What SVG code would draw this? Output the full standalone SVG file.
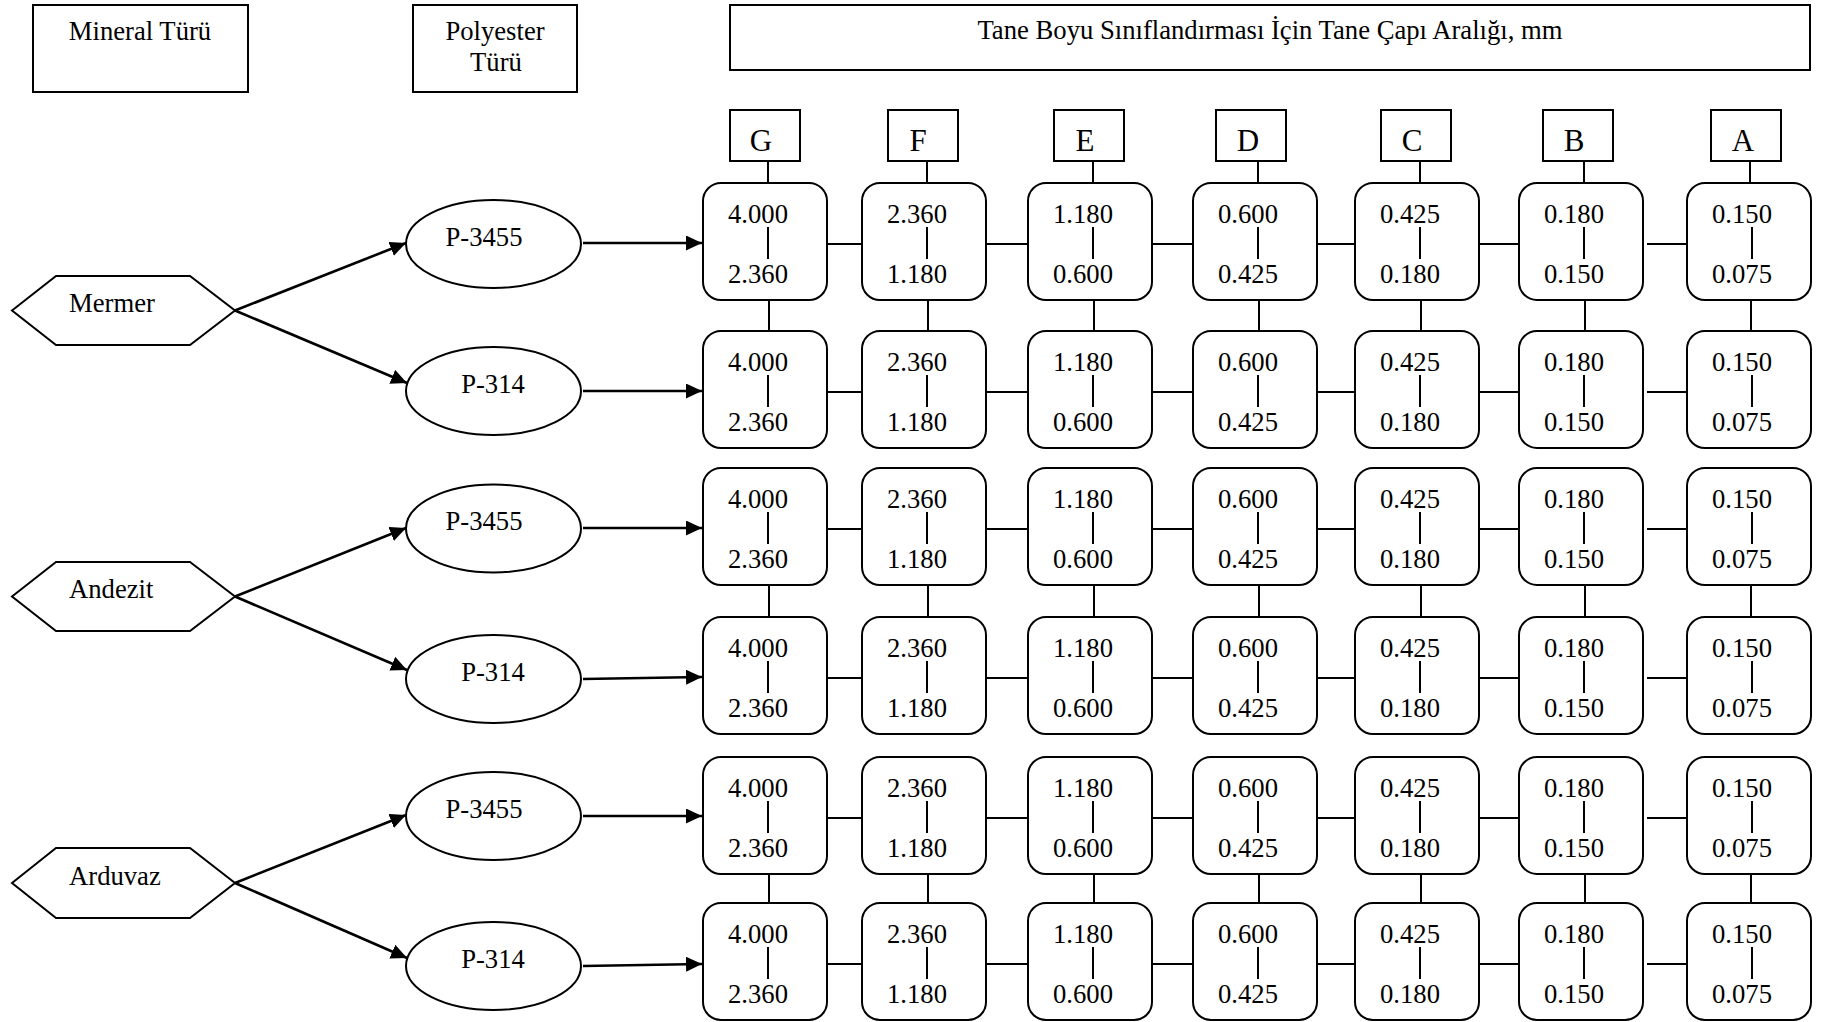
<svg xmlns="http://www.w3.org/2000/svg" width="1830" height="1022" viewBox="0 0 1830 1022">
<style>
text{font-family:"Liberation Serif","Times New Roman",serif;font-size:26.67px;fill:#000}
.c{text-anchor:middle}
.s{text-anchor:start}
.L{font-size:31px;text-anchor:middle}
.box{fill:#fff;stroke:#000;stroke-width:2}
.nd rect{fill:#fff;stroke:#000;stroke-width:2}
.nd line{stroke:#000;stroke-width:2}
.nd text{text-anchor:middle}
.cn{fill:none;stroke:#000;stroke-width:2}
.ar{fill:none;stroke:#000;stroke-width:2.6;marker-end:url(#ah)}
</style>
<defs>
<marker id="ah" markerUnits="userSpaceOnUse" markerWidth="17" markerHeight="15" refX="16" refY="7.5" orient="auto"><path d="M0,0 L16,7.5 L0,15 z" fill="#000"/></marker>
</defs>
<rect width="1830" height="1022" fill="#fff"/>

<g id="hdr-mineral"><rect class="box" x="33" y="5" width="215" height="87"/><text class="c" x="140" y="40">Mineral Türü</text></g>
<g id="hdr-polyester"><rect class="box" x="413" y="5" width="164" height="87"/><text class="c" x="495" y="40">Polyester</text><text class="c" x="496" y="71">Türü</text></g>
<g id="hdr-title"><rect class="box" x="730" y="5" width="1080" height="65"/><text class="c" x="1270" y="39">Tane Boyu Sınıflandırması İçin Tane Çapı Aralığı, mm</text></g>

<g id="col-G"><rect class="box" x="730" y="110" width="70" height="51"/><text class="L" x="761" y="151">G</text></g>
<g id="col-F"><rect class="box" x="888" y="110" width="70" height="51"/><text class="L" x="918" y="151">F</text></g>
<g id="col-E"><rect class="box" x="1054" y="110" width="70" height="51"/><text class="L" x="1085" y="151">E</text></g>
<g id="col-D"><rect class="box" x="1216" y="110" width="70" height="51"/><text class="L" x="1248" y="151">D</text></g>
<g id="col-C"><rect class="box" x="1381" y="110" width="70" height="51"/><text class="L" x="1412" y="151">C</text></g>
<g id="col-B"><rect class="box" x="1543" y="110" width="70" height="51"/><text class="L" x="1574" y="151">B</text></g>
<g id="col-A"><rect class="box" x="1711" y="110" width="70" height="51"/><text class="L" x="1743" y="151">A</text></g>

<g id="min-mermer"><polygon class="box" points="12,310.5 56,276 190,276 235,310.5 190,345 56,345"/><text class="s" x="69" y="312">Mermer</text></g>
<g id="min-andezit"><polygon class="box" points="12,596.5 56,562 190,562 235,596.5 190,631 56,631"/><text class="s" x="69" y="598">Andezit</text></g>
<g id="min-arduvaz"><polygon class="box" points="12,883 56,848 190,848 235,883 190,918 56,918"/><text class="s" x="69" y="885">Arduvaz</text></g>

<g id="pol-mermer-3455"><ellipse class="box" cx="493.5" cy="244" rx="87.5" ry="44"/><text class="c" x="484" y="246">P-3455</text></g>
<g id="pol-mermer-314"><ellipse class="box" cx="493.5" cy="391" rx="87.5" ry="44"/><text class="c" x="493" y="393">P-314</text></g>
<g id="pol-andezit-3455"><ellipse class="box" cx="493.5" cy="528.5" rx="87.5" ry="44"/><text class="c" x="484" y="530">P-3455</text></g>
<g id="pol-andezit-314"><ellipse class="box" cx="493.5" cy="679" rx="87.5" ry="44"/><text class="c" x="493" y="681">P-314</text></g>
<g id="pol-arduvaz-3455"><ellipse class="box" cx="493.5" cy="816" rx="87.5" ry="44"/><text class="c" x="484" y="818">P-3455</text></g>
<g id="pol-arduvaz-314"><ellipse class="box" cx="493.5" cy="966" rx="87.5" ry="44"/><text class="c" x="493" y="968">P-314</text></g>

<g id="grid">
<g id="r1-G" class="nd" transform="translate(703,183)"><rect width="124" height="117" rx="18"/><text x="55" y="40">4.000</text><line x1="65" y1="44" x2="65" y2="76"/><text x="55" y="100">2.360</text></g>
<g id="r1-F" class="nd" transform="translate(862,183)"><rect width="124" height="117" rx="18"/><text x="55" y="40">2.360</text><line x1="65" y1="44" x2="65" y2="76"/><text x="55" y="100">1.180</text></g>
<g id="r1-E" class="nd" transform="translate(1028,183)"><rect width="124" height="117" rx="18"/><text x="55" y="40">1.180</text><line x1="65" y1="44" x2="65" y2="76"/><text x="55" y="100">0.600</text></g>
<g id="r1-D" class="nd" transform="translate(1193,183)"><rect width="124" height="117" rx="18"/><text x="55" y="40">0.600</text><line x1="65" y1="44" x2="65" y2="76"/><text x="55" y="100">0.425</text></g>
<g id="r1-C" class="nd" transform="translate(1355,183)"><rect width="124" height="117" rx="18"/><text x="55" y="40">0.425</text><line x1="65" y1="44" x2="65" y2="76"/><text x="55" y="100">0.180</text></g>
<g id="r1-B" class="nd" transform="translate(1519,183)"><rect width="124" height="117" rx="18"/><text x="55" y="40">0.180</text><line x1="65" y1="44" x2="65" y2="76"/><text x="55" y="100">0.150</text></g>
<g id="r1-A" class="nd" transform="translate(1687,183)"><rect width="124" height="117" rx="18"/><text x="55" y="40">0.150</text><line x1="65" y1="44" x2="65" y2="76"/><text x="55" y="100">0.075</text></g>

<g id="r2-G" class="nd" transform="translate(703,331)"><rect width="124" height="117" rx="18"/><text x="55" y="40">4.000</text><line x1="65" y1="44" x2="65" y2="76"/><text x="55" y="100">2.360</text></g>
<g id="r2-F" class="nd" transform="translate(862,331)"><rect width="124" height="117" rx="18"/><text x="55" y="40">2.360</text><line x1="65" y1="44" x2="65" y2="76"/><text x="55" y="100">1.180</text></g>
<g id="r2-E" class="nd" transform="translate(1028,331)"><rect width="124" height="117" rx="18"/><text x="55" y="40">1.180</text><line x1="65" y1="44" x2="65" y2="76"/><text x="55" y="100">0.600</text></g>
<g id="r2-D" class="nd" transform="translate(1193,331)"><rect width="124" height="117" rx="18"/><text x="55" y="40">0.600</text><line x1="65" y1="44" x2="65" y2="76"/><text x="55" y="100">0.425</text></g>
<g id="r2-C" class="nd" transform="translate(1355,331)"><rect width="124" height="117" rx="18"/><text x="55" y="40">0.425</text><line x1="65" y1="44" x2="65" y2="76"/><text x="55" y="100">0.180</text></g>
<g id="r2-B" class="nd" transform="translate(1519,331)"><rect width="124" height="117" rx="18"/><text x="55" y="40">0.180</text><line x1="65" y1="44" x2="65" y2="76"/><text x="55" y="100">0.150</text></g>
<g id="r2-A" class="nd" transform="translate(1687,331)"><rect width="124" height="117" rx="18"/><text x="55" y="40">0.150</text><line x1="65" y1="44" x2="65" y2="76"/><text x="55" y="100">0.075</text></g>

<g id="r3-G" class="nd" transform="translate(703,468)"><rect width="124" height="117" rx="18"/><text x="55" y="40">4.000</text><line x1="65" y1="44" x2="65" y2="76"/><text x="55" y="100">2.360</text></g>
<g id="r3-F" class="nd" transform="translate(862,468)"><rect width="124" height="117" rx="18"/><text x="55" y="40">2.360</text><line x1="65" y1="44" x2="65" y2="76"/><text x="55" y="100">1.180</text></g>
<g id="r3-E" class="nd" transform="translate(1028,468)"><rect width="124" height="117" rx="18"/><text x="55" y="40">1.180</text><line x1="65" y1="44" x2="65" y2="76"/><text x="55" y="100">0.600</text></g>
<g id="r3-D" class="nd" transform="translate(1193,468)"><rect width="124" height="117" rx="18"/><text x="55" y="40">0.600</text><line x1="65" y1="44" x2="65" y2="76"/><text x="55" y="100">0.425</text></g>
<g id="r3-C" class="nd" transform="translate(1355,468)"><rect width="124" height="117" rx="18"/><text x="55" y="40">0.425</text><line x1="65" y1="44" x2="65" y2="76"/><text x="55" y="100">0.180</text></g>
<g id="r3-B" class="nd" transform="translate(1519,468)"><rect width="124" height="117" rx="18"/><text x="55" y="40">0.180</text><line x1="65" y1="44" x2="65" y2="76"/><text x="55" y="100">0.150</text></g>
<g id="r3-A" class="nd" transform="translate(1687,468)"><rect width="124" height="117" rx="18"/><text x="55" y="40">0.150</text><line x1="65" y1="44" x2="65" y2="76"/><text x="55" y="100">0.075</text></g>

<g id="r4-G" class="nd" transform="translate(703,617)"><rect width="124" height="117" rx="18"/><text x="55" y="40">4.000</text><line x1="65" y1="44" x2="65" y2="76"/><text x="55" y="100">2.360</text></g>
<g id="r4-F" class="nd" transform="translate(862,617)"><rect width="124" height="117" rx="18"/><text x="55" y="40">2.360</text><line x1="65" y1="44" x2="65" y2="76"/><text x="55" y="100">1.180</text></g>
<g id="r4-E" class="nd" transform="translate(1028,617)"><rect width="124" height="117" rx="18"/><text x="55" y="40">1.180</text><line x1="65" y1="44" x2="65" y2="76"/><text x="55" y="100">0.600</text></g>
<g id="r4-D" class="nd" transform="translate(1193,617)"><rect width="124" height="117" rx="18"/><text x="55" y="40">0.600</text><line x1="65" y1="44" x2="65" y2="76"/><text x="55" y="100">0.425</text></g>
<g id="r4-C" class="nd" transform="translate(1355,617)"><rect width="124" height="117" rx="18"/><text x="55" y="40">0.425</text><line x1="65" y1="44" x2="65" y2="76"/><text x="55" y="100">0.180</text></g>
<g id="r4-B" class="nd" transform="translate(1519,617)"><rect width="124" height="117" rx="18"/><text x="55" y="40">0.180</text><line x1="65" y1="44" x2="65" y2="76"/><text x="55" y="100">0.150</text></g>
<g id="r4-A" class="nd" transform="translate(1687,617)"><rect width="124" height="117" rx="18"/><text x="55" y="40">0.150</text><line x1="65" y1="44" x2="65" y2="76"/><text x="55" y="100">0.075</text></g>

<g id="r5-G" class="nd" transform="translate(703,757)"><rect width="124" height="117" rx="18"/><text x="55" y="40">4.000</text><line x1="65" y1="44" x2="65" y2="76"/><text x="55" y="100">2.360</text></g>
<g id="r5-F" class="nd" transform="translate(862,757)"><rect width="124" height="117" rx="18"/><text x="55" y="40">2.360</text><line x1="65" y1="44" x2="65" y2="76"/><text x="55" y="100">1.180</text></g>
<g id="r5-E" class="nd" transform="translate(1028,757)"><rect width="124" height="117" rx="18"/><text x="55" y="40">1.180</text><line x1="65" y1="44" x2="65" y2="76"/><text x="55" y="100">0.600</text></g>
<g id="r5-D" class="nd" transform="translate(1193,757)"><rect width="124" height="117" rx="18"/><text x="55" y="40">0.600</text><line x1="65" y1="44" x2="65" y2="76"/><text x="55" y="100">0.425</text></g>
<g id="r5-C" class="nd" transform="translate(1355,757)"><rect width="124" height="117" rx="18"/><text x="55" y="40">0.425</text><line x1="65" y1="44" x2="65" y2="76"/><text x="55" y="100">0.180</text></g>
<g id="r5-B" class="nd" transform="translate(1519,757)"><rect width="124" height="117" rx="18"/><text x="55" y="40">0.180</text><line x1="65" y1="44" x2="65" y2="76"/><text x="55" y="100">0.150</text></g>
<g id="r5-A" class="nd" transform="translate(1687,757)"><rect width="124" height="117" rx="18"/><text x="55" y="40">0.150</text><line x1="65" y1="44" x2="65" y2="76"/><text x="55" y="100">0.075</text></g>

<g id="r6-G" class="nd" transform="translate(703,903)"><rect width="124" height="117" rx="18"/><text x="55" y="40">4.000</text><line x1="65" y1="44" x2="65" y2="76"/><text x="55" y="100">2.360</text></g>
<g id="r6-F" class="nd" transform="translate(862,903)"><rect width="124" height="117" rx="18"/><text x="55" y="40">2.360</text><line x1="65" y1="44" x2="65" y2="76"/><text x="55" y="100">1.180</text></g>
<g id="r6-E" class="nd" transform="translate(1028,903)"><rect width="124" height="117" rx="18"/><text x="55" y="40">1.180</text><line x1="65" y1="44" x2="65" y2="76"/><text x="55" y="100">0.600</text></g>
<g id="r6-D" class="nd" transform="translate(1193,903)"><rect width="124" height="117" rx="18"/><text x="55" y="40">0.600</text><line x1="65" y1="44" x2="65" y2="76"/><text x="55" y="100">0.425</text></g>
<g id="r6-C" class="nd" transform="translate(1355,903)"><rect width="124" height="117" rx="18"/><text x="55" y="40">0.425</text><line x1="65" y1="44" x2="65" y2="76"/><text x="55" y="100">0.180</text></g>
<g id="r6-B" class="nd" transform="translate(1519,903)"><rect width="124" height="117" rx="18"/><text x="55" y="40">0.180</text><line x1="65" y1="44" x2="65" y2="76"/><text x="55" y="100">0.150</text></g>
<g id="r6-A" class="nd" transform="translate(1687,903)"><rect width="124" height="117" rx="18"/><text x="55" y="40">0.150</text><line x1="65" y1="44" x2="65" y2="76"/><text x="55" y="100">0.075</text></g>
</g>

<g id="connectors">
<path class="cn" d="M768,161V183M927,161V183M1093,161V183M1258,161V183M1420,161V183M1584,161V183M1750,161V183"/>
<path class="cn" d="M827,244H862M986,244H1028M1152,244H1193M1317,244H1355M1479,244H1519M1647,244H1687"/>
<path class="cn" d="M827,392H862M986,392H1028M1152,392H1193M1317,392H1355M1479,392H1519M1647,392H1687"/>
<path class="cn" d="M827,529H862M986,529H1028M1152,529H1193M1317,529H1355M1479,529H1519M1647,529H1687"/>
<path class="cn" d="M827,678H862M986,678H1028M1152,678H1193M1317,678H1355M1479,678H1519M1647,678H1687"/>
<path class="cn" d="M827,818H862M986,818H1028M1152,818H1193M1317,818H1355M1479,818H1519M1647,818H1687"/>
<path class="cn" d="M827,964H862M986,964H1028M1152,964H1193M1317,964H1355M1479,964H1519M1647,964H1687"/>
<path class="cn" d="M769,300V331M928,300V331M1094,300V331M1259,300V331M1421,300V331M1585,300V331M1751,300V331"/>
<path class="cn" d="M769,585V617M928,585V617M1094,585V617M1259,585V617M1421,585V617M1585,585V617M1751,585V617"/>
<path class="cn" d="M769,874V903M928,874V903M1094,874V903M1259,874V903M1421,874V903M1585,874V903M1751,874V903"/>
<line class="ar" x1="235" y1="310.5" x2="406" y2="243"/>
<line class="ar" x1="235" y1="310.5" x2="407" y2="383"/>
<line class="ar" x1="235" y1="596.5" x2="406" y2="528"/>
<line class="ar" x1="235" y1="596.5" x2="407" y2="670"/>
<line class="ar" x1="235" y1="883" x2="406" y2="815"/>
<line class="ar" x1="235" y1="883" x2="407" y2="958"/>
<line class="ar" x1="583" y1="243" x2="702" y2="243"/>
<line class="ar" x1="583" y1="391" x2="702" y2="391"/>
<line class="ar" x1="583" y1="528" x2="702" y2="528"/>
<line class="ar" x1="583" y1="679" x2="702" y2="677"/>
<line class="ar" x1="583" y1="816" x2="702" y2="816"/>
<line class="ar" x1="583" y1="966" x2="702" y2="964"/>
</g>
</svg>
